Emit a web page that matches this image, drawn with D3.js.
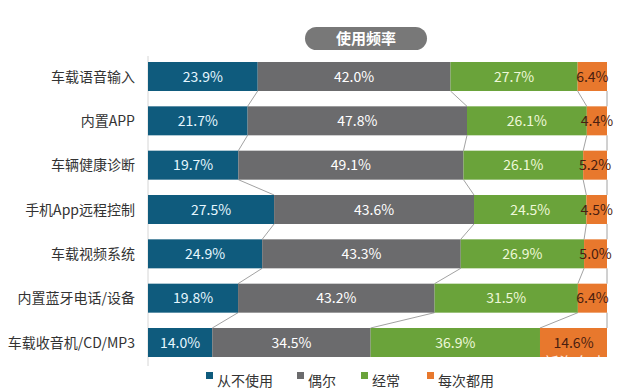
<!DOCTYPE html>
<html><head><meta charset="utf-8">
<script src="https://cdn.jsdelivr.net/npm/d3@7"></script>
<style>body{margin:0;background:#fff}svg{display:block}</style>
</head><body>
<svg id="c" width="618" height="392"></svg>
<script>
const categories = ["车载语音输入","内置APP","车辆健康诊断","手机App远程控制","车载视频系统","内置蓝牙电话/设备","车载收音机/CD/MP3"];
const neverUse = [23.9,21.7,19.7,27.5,24.9,19.8,14.0];
const occasionally = [42.0,47.8,49.1,43.6,43.3,43.2,34.5];
const often = [27.7,26.1,26.1,24.5,26.9,31.5,36.9];
const everyTime = [6.4,4.4,5.2,4.5,5.0,6.4,14.6];
const seriesNames = ["从不使用","偶尔","经常","每次都用"];
const title = "使用频率";

const colors = ["#0f5b7d","#6b6b6d","#6aa33a","#e8782d"];
const labelColors = ["#e6f7ff","#ffffff","#eef8d8","#4a1e10"];
const font = "'Noto Sans CJK SC','Noto Sans',sans-serif";

const svg = d3.select("#c");
const seriesVals = [neverUse, occasionally, often, everyTime];
const rows = categories.map((c,i)=>{
  const vals = seriesVals.map(s=>s[i]);
  const tot = d3.sum(vals);
  let acc = 0;
  const segs = vals.map((v,k)=>{const s={k,v,x0:acc/tot,x1:(acc+v)/tot}; acc+=v; return s;});
  return {c, segs};
});

const x = d3.scaleLinear().domain([0,1]).range([148,607]);
const y = d3.scaleBand().domain(categories).range([62,357]).paddingInner(0.346).paddingOuter(0);

// left axis line
svg.append("line").attr("x1",148).attr("x2",148).attr("y1",56).attr("y2",366)
  .attr("stroke","#d6d6d6").attr("stroke-width",1);

// connector lines
for(let i=0;i<rows.length-1;i++){
  const a=rows[i], b=rows[i+1];
  for(let k=0;k<4;k++){
    svg.append("line")
      .attr("x1",x(a.segs[k].x1)).attr("y1",y(a.c)+y.bandwidth())
      .attr("x2",x(b.segs[k].x1)).attr("y2",y(b.c))
      .attr("stroke","#8a8a8a").attr("stroke-width",0.8);
  }
}

// bars
const g = svg.selectAll("g.row").data(rows).join("g").attr("class","row");
g.selectAll("rect").data(d=>d.segs.map(s=>({...s,c:d.c}))).join("rect")
  .attr("x",d=>x(d.x0)).attr("y",d=>y(d.c))
  .attr("width",d=>x(d.x1)-x(d.x0)).attr("height",y.bandwidth())
  .attr("fill",d=>colors[d.k]);
g.selectAll("text.v").data(d=>d.segs.map(s=>({...s,c:d.c}))).join("text")
  .attr("class","v")
  .attr("x",d=>(x(d.x0)+x(d.x1))/2).attr("y",d=>y(d.c)+y.bandwidth()/2)
  .attr("dy","0.36em").attr("text-anchor","middle")
  .attr("font-family",font).attr("font-size",14)
  .attr("fill",d=>labelColors[d.k])
  .text(d=>d.v.toFixed(1)+"%");

// category labels
svg.selectAll("text.cat").data(categories).join("text").attr("class","cat")
  .attr("x",135).attr("y",d=>y(d)+y.bandwidth()/2).attr("dy","0.36em")
  .attr("text-anchor","end").attr("font-family",font).attr("font-size",14)
  .attr("fill","#333").text(d=>d);

// title pill
svg.append("rect").attr("x",305).attr("y",27).attr("width",122).attr("height",23)
  .attr("rx",11.5).attr("fill","#787878");
svg.append("text").attr("x",366).attr("y",38.5).attr("dy","0.36em").attr("text-anchor","middle")
  .attr("font-family",font).attr("font-size",15).attr("font-weight","bold").attr("fill","#fff").text(title);

// watermark
svg.append("text").attr("x",543).attr("y",369).attr("font-family",font).attr("font-size",16)
  .attr("fill","#fff").attr("opacity",0.85).text("新汽车志");

// legend
const legX = [206,297,361,427];
const lg = svg.selectAll("g.leg").data(seriesNames).join("g").attr("class","leg");
lg.append("rect").attr("x",(d,i)=>legX[i]).attr("y",372).attr("width",7).attr("height",7)
  .attr("fill",(d,i)=>colors[i]);
lg.append("text").attr("x",(d,i)=>legX[i]+11).attr("y",381).attr("dy","0.36em")
  .attr("font-family",font).attr("font-size",14).attr("fill","#333").text(d=>d);
</script>
</body></html>
